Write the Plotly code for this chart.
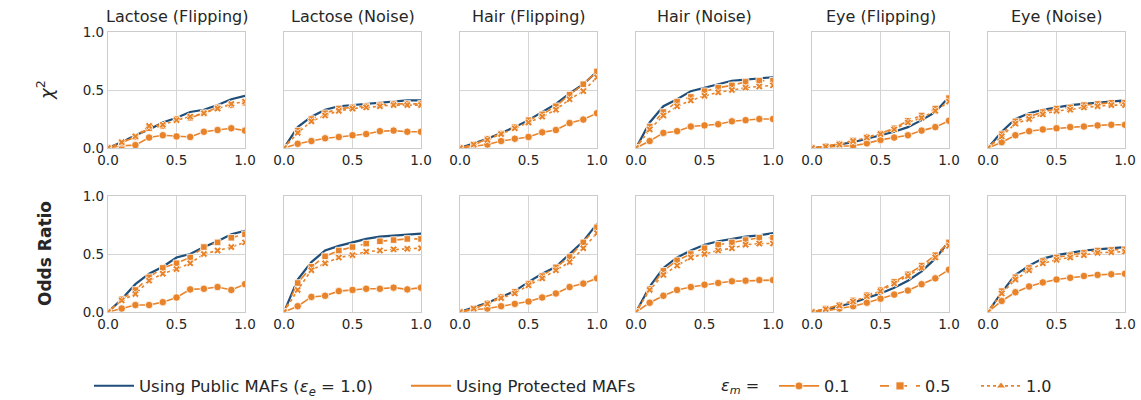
import plotly.graph_objects as go

x = [0.0, 0.1, 0.2, 0.3, 0.4, 0.5, 0.6, 0.7, 0.8, 0.9, 1.0]

titles = ["Lactose (Flipping)", "Lactose (Noise)", "Hair (Flipping)",
          "Hair (Noise)", "Eye (Flipping)", "Eye (Noise)"]

# Row 1: chi^2
chi_public = [
    [0, 0.05, 0.11, 0.16, 0.22, 0.26, 0.31, 0.33, 0.37, 0.42, 0.45],
    [0, 0.18, 0.27, 0.33, 0.36, 0.37, 0.38, 0.39, 0.40, 0.41, 0.41],
    [0, 0.04, 0.08, 0.13, 0.18, 0.24, 0.31, 0.38, 0.47, 0.55, 0.66],
    [0, 0.22, 0.36, 0.42, 0.49, 0.52, 0.55, 0.58, 0.59, 0.60, 0.61],
    [0, 0.01, 0.03, 0.05, 0.08, 0.11, 0.14, 0.18, 0.24, 0.31, 0.44],
    [0, 0.14, 0.25, 0.30, 0.33, 0.35, 0.37, 0.38, 0.39, 0.40, 0.41],
]
chi_e01 = [
    [0, 0.02, 0.025, 0.09, 0.11, 0.10, 0.095, 0.14, 0.155, 0.17, 0.15],
    [0, 0.036, 0.06, 0.084, 0.095, 0.11, 0.12, 0.145, 0.15, 0.14, 0.14],
    [0, 0.015, 0.03, 0.06, 0.08, 0.095, 0.135, 0.155, 0.215, 0.245, 0.30],
    [0, 0.06, 0.13, 0.145, 0.185, 0.195, 0.205, 0.23, 0.24, 0.25, 0.25],
    [0, 0.01, 0.015, 0.02, 0.04, 0.07, 0.09, 0.11, 0.15, 0.18, 0.235],
    [0, 0.05, 0.11, 0.145, 0.16, 0.17, 0.18, 0.185, 0.195, 0.20, 0.20],
]
chi_e05 = [
    [0, 0.045, 0.095, 0.17, 0.19, 0.25, 0.26, 0.30, 0.35, 0.37, 0.39],
    [0, 0.15, 0.25, 0.30, 0.34, 0.35, 0.36, 0.37, 0.38, 0.38, 0.38],
    [0, 0.03, 0.08, 0.125, 0.18, 0.24, 0.29, 0.36, 0.46, 0.55, 0.66],
    [0, 0.185, 0.31, 0.40, 0.44, 0.49, 0.52, 0.54, 0.57, 0.58, 0.58],
    [0, 0.015, 0.035, 0.065, 0.095, 0.125, 0.17, 0.235, 0.28, 0.34, 0.43],
    [0, 0.12, 0.23, 0.27, 0.31, 0.34, 0.35, 0.37, 0.38, 0.39, 0.39],
]
chi_e10 = [
    [0, 0.05, 0.10, 0.19, 0.20, 0.24, 0.27, 0.30, 0.34, 0.38, 0.40],
    [0, 0.13, 0.23, 0.28, 0.32, 0.34, 0.35, 0.36, 0.37, 0.37, 0.37],
    [0, 0.03, 0.07, 0.12, 0.17, 0.22, 0.27, 0.33, 0.42, 0.49, 0.61],
    [0, 0.16, 0.28, 0.36, 0.41, 0.45, 0.48, 0.50, 0.52, 0.53, 0.54],
    [0, 0.012, 0.03, 0.06, 0.09, 0.12, 0.16, 0.22, 0.26, 0.32, 0.40],
    [0, 0.10, 0.21, 0.25, 0.29, 0.32, 0.33, 0.35, 0.36, 0.37, 0.37],
]

# Row 2: Odds Ratio
or_public = [
    [0, 0.11, 0.24, 0.33, 0.39, 0.47, 0.50, 0.56, 0.61, 0.67, 0.70],
    [0, 0.28, 0.43, 0.53, 0.57, 0.60, 0.63, 0.65, 0.66, 0.665, 0.675],
    [0, 0.04, 0.08, 0.13, 0.18, 0.26, 0.33, 0.39, 0.50, 0.61, 0.76],
    [0, 0.22, 0.38, 0.47, 0.53, 0.58, 0.61, 0.63, 0.65, 0.66, 0.68],
    [0, 0.02, 0.05, 0.08, 0.12, 0.16, 0.21, 0.27, 0.35, 0.46, 0.61],
    [0, 0.17, 0.32, 0.40, 0.46, 0.49, 0.51, 0.53, 0.54, 0.55, 0.56],
]
or_e01 = [
    [0, 0.03, 0.06, 0.06, 0.085, 0.125, 0.195, 0.20, 0.215, 0.19, 0.24],
    [0, 0.05, 0.13, 0.14, 0.18, 0.19, 0.20, 0.20, 0.21, 0.195, 0.21],
    [0, 0.02, 0.03, 0.05, 0.07, 0.09, 0.125, 0.16, 0.215, 0.245, 0.29],
    [0, 0.08, 0.14, 0.19, 0.215, 0.235, 0.25, 0.265, 0.27, 0.275, 0.275],
    [0, 0.01, 0.03, 0.05, 0.08, 0.115, 0.15, 0.185, 0.24, 0.29, 0.365],
    [0, 0.095, 0.17, 0.22, 0.255, 0.28, 0.295, 0.31, 0.32, 0.325, 0.33],
]
or_e05 = [
    [0, 0.11, 0.19, 0.30, 0.38, 0.42, 0.47, 0.56, 0.60, 0.64, 0.67],
    [0, 0.25, 0.39, 0.48, 0.53, 0.56, 0.59, 0.61, 0.62, 0.63, 0.63],
    [0, 0.03, 0.075, 0.13, 0.175, 0.245, 0.31, 0.385, 0.475, 0.60, 0.73],
    [0, 0.20, 0.355, 0.445, 0.50, 0.55, 0.58, 0.60, 0.62, 0.64, 0.64],
    [0, 0.03, 0.06, 0.10, 0.145, 0.19, 0.26, 0.325, 0.40, 0.49, 0.60],
    [0, 0.18, 0.30, 0.38, 0.44, 0.47, 0.49, 0.51, 0.53, 0.535, 0.54],
]
or_e10 = [
    [0, 0.10, 0.155, 0.27, 0.33, 0.37, 0.42, 0.50, 0.53, 0.56, 0.60],
    [0, 0.19, 0.36, 0.42, 0.47, 0.49, 0.52, 0.53, 0.54, 0.545, 0.55],
    [0, 0.03, 0.07, 0.12, 0.16, 0.23, 0.29, 0.36, 0.43, 0.55, 0.68],
    [0, 0.19, 0.32, 0.40, 0.47, 0.50, 0.53, 0.55, 0.58, 0.59, 0.59],
    [0, 0.025, 0.055, 0.09, 0.135, 0.18, 0.245, 0.31, 0.38, 0.47, 0.57],
    [0, 0.16, 0.28, 0.36, 0.42, 0.45, 0.47, 0.49, 0.51, 0.515, 0.52],
]

row_labels = ["<i>χ</i><sup>2</sup>", "<b>Odds Ratio</b>"]
tick_vals = [0.0, 0.5, 1.0]
tick_text = ["0.0", "0.5", "1.0"]
eps_labels = ["0.1", "0.5", "1.0"]

BLUE = "#1f4e79"
ORANGE = "#e8832a"
FONT = "DejaVu Sans"
TXT = "#262626"
W, H = 1141, 400

fig = go.Figure()

lefts = [108, 284, 460, 636, 812, 988]
pw = 137
rows_px = [(32, 148), (196, 312)]

eps_styles = [
    dict(dash="solid", symbol="circle", size=7.5),
    dict(dash="dash", symbol="square", size=6.5),
    dict(dash="dot", symbol="x", size=6.5),
]

data_rows = [
    (chi_public, [chi_e01, chi_e05, chi_e10]),
    (or_public, [or_e01, or_e05, or_e10]),
]

layout_axes = {}
for r in range(2):
    pub, eps_sets = data_rows[r]
    top, bot = rows_px[r]
    for c in range(6):
        idx = r * 6 + c + 1
        xa = "x" if idx == 1 else f"x{idx}"
        ya = "y" if idx == 1 else f"y{idx}"
        fig.add_trace(go.Scatter(
            x=x, y=pub[c], mode="lines", xaxis=xa, yaxis=ya,
            line=dict(color=BLUE, width=2.2), showlegend=False))
        for k in range(3):
            st = eps_styles[k]
            fig.add_trace(go.Scatter(
                x=x, y=eps_sets[k][c], mode="lines+markers", xaxis=xa, yaxis=ya,
                line=dict(color=ORANGE, width=1.6, dash=st["dash"]),
                marker=dict(symbol=st["symbol"], size=st["size"], color=ORANGE,
                            line=dict(color="white", width=0.8)),
                showlegend=False))
        xkey = "xaxis" if idx == 1 else f"xaxis{idx}"
        ykey = "yaxis" if idx == 1 else f"yaxis{idx}"
        layout_axes[xkey] = dict(
            domain=[lefts[c] / W, (lefts[c] + pw) / W], anchor=ya,
            range=[0, 1], tickvals=tick_vals, ticktext=tick_text,
            showgrid=True, gridcolor="#d5d5d5", gridwidth=1,
            showline=True, mirror=True, linecolor="#cccccc", linewidth=1.3,
            zeroline=False, ticks="", tickfont=dict(size=13.5, color=TXT),
        )
        layout_axes[ykey] = dict(
            domain=[1 - bot / H, 1 - top / H], anchor=xa,
            range=[0, 1], tickvals=tick_vals, ticktext=tick_text,
            showticklabels=(c == 0),
            showgrid=True, gridcolor="#d5d5d5", gridwidth=1,
            showline=True, mirror=True, linecolor="#cccccc", linewidth=1.3,
            zeroline=False, ticks="", tickfont=dict(size=13.5, color=TXT),
        )

fig.update_layout(**layout_axes)

annotations = []
for c in range(6):
    annotations.append(dict(
        text=titles[c], x=(lefts[c] + pw / 2) / W, y=1 - 16 / H,
        xref="paper", yref="paper", showarrow=False,
        font=dict(size=16, color=TXT, family=FONT),
        xanchor="center", yanchor="middle"))
annotations.append(dict(
    text=row_labels[0], x=45 / W, y=1 - 90 / H, xref="paper", yref="paper",
    showarrow=False, textangle=-90, font=dict(size=18, color=TXT),
    xanchor="center", yanchor="middle"))
annotations.append(dict(
    text=row_labels[1], x=45 / W, y=1 - 254 / H, xref="paper", yref="paper",
    showarrow=False, textangle=-90, font=dict(size=17, color=TXT),
    xanchor="center", yanchor="middle"))
annotations.append(dict(
    text="<i>ε<sub>m</sub></i> =", x=740 / W, y=1 - 386 / H, xref="paper", yref="paper",
    showarrow=False, font=dict(size=16, color=TXT),
    xanchor="center", yanchor="middle"))

# Legend-only traces
fig.add_trace(go.Scatter(x=[None], y=[None], mode="lines",
                         line=dict(color=BLUE, width=2.2),
                         name="Using Public MAFs (<i>ε<sub>e</sub></i> = 1.0)",
                         legend="legend"))
fig.add_trace(go.Scatter(x=[None], y=[None], mode="lines",
                         line=dict(color=ORANGE, width=1.8),
                         name="Using Protected MAFs", legend="legend"))
legend_syms = ["circle", "square", "triangle-up"]
for k in range(3):
    fig.add_trace(go.Scatter(
        x=[None], y=[None], mode="lines+markers",
        line=dict(color=ORANGE, width=1.6, dash=eps_styles[k]["dash"]),
        marker=dict(symbol=legend_syms[k], size=8, color=ORANGE,
                    line=dict(color="white", width=0.8)),
        name=eps_labels[k], legend="legend2"))

fig.update_layout(
    width=W, height=H,
    margin=dict(l=0, r=0, t=0, b=0, autoexpand=False),
    paper_bgcolor="white", plot_bgcolor="white",
    font=dict(family=FONT, color=TXT),
    annotations=annotations,
    legend=dict(orientation="h", x=89 / W, y=1 - 386 / H, xanchor="left",
                yanchor="middle", font=dict(size=16.5, color=TXT),
                bgcolor="rgba(0,0,0,0)", itemwidth=40, entrywidth=262),
    legend2=dict(orientation="h", x=774 / W, y=1 - 386 / H, xanchor="left",
                 yanchor="middle", font=dict(size=16, color=TXT),
                 bgcolor="rgba(0,0,0,0)", itemwidth=40, entrywidth=46),
)

fig.write_html("out.html", config={"displayModeBar": False},
               post_script="document.body.style.margin='0px';document.body.style.overflow='hidden';")
